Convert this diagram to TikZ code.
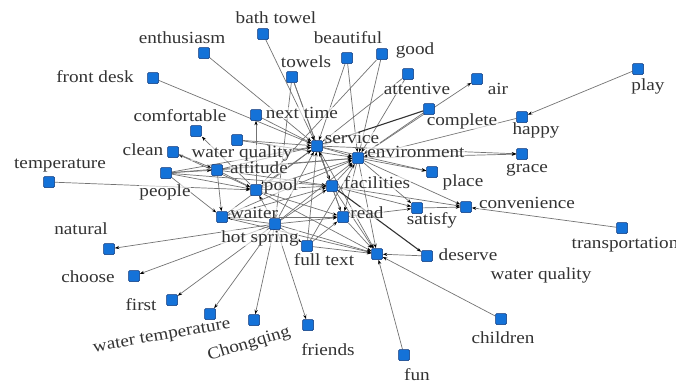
\documentclass[tikz,border=0pt]{standalone}
\usepackage{fontspec}
\setmainfont{Liberation Serif}[FakeStretch=1.13]
\usetikzlibrary{arrows.meta}
\definecolor{nodeblue}{RGB}{20,114,216}
\definecolor{nodeedge}{RGB}{12,52,120}
\pgfdeclarelayer{edges}
\pgfdeclarelayer{labels}
\pgfsetlayers{edges,labels,main}
\begin{document}
\begin{tikzpicture}[x=1pt,y=-1pt,
  sq/.style={draw=nodeedge,fill=nodeblue,line width=0.5pt,minimum size=11pt,inner sep=0pt,rounded corners=1.2pt},
  lab/.style={font=\fontsize{17}{17}\selectfont,text=black!80,inner sep=0.5pt,fill=white,fill opacity=0.6,text opacity=1},
  ed/.style={draw=black!55,line width=0.7pt,-{Stealth[length=4.5pt,width=3.2pt,black]}},
  edk/.style={ed,draw=black!80,line width=1.1pt},
]
\useasboundingbox (0,0) rectangle (676,384);
% ---------- squares ----------
\node[sq] (bathtowel) at (263,34) {};
\node[sq] (enthus) at (204,53) {};
\node[sq] (frontdesk) at (153,78) {};
\node[sq] (towels) at (292,77) {};
\node[sq] (beautiful) at (347,58) {};
\node[sq] (good) at (382,54) {};
\node[sq] (attentive) at (408,74) {};
\node[sq] (air) at (477,79) {};
\node[sq] (play) at (638,69) {};
\node[sq] (complete) at (429,109) {};
\node[sq] (happy) at (522,117) {};
\node[sq] (nexttime) at (256,115) {};
\node[sq] (comfortable) at (196,131) {};
\node[sq] (wqa) at (237,140) {};
\node[sq] (service) at (317,146) {};
\node[sq] (env) at (358,158) {};
\node[sq] (grace) at (522,154) {};
\node[sq] (clean) at (173,152) {};
\node[sq] (temperature) at (49,182) {};
\node[sq] (people) at (166,173) {};
\node[sq] (attitude) at (217,170) {};
\node[sq] (pool) at (256,190) {};
\node[sq] (facilities) at (332,186) {};
\node[sq] (place) at (432,172) {};
\node[sq] (waiter) at (222,217) {};
\node[sq] (hotspring) at (275,224) {};
\node[sq] (read) at (343,217) {};
\node[sq] (satisfy) at (417,208) {};
\node[sq] (convenience) at (466,207) {};
\node[sq] (transportation) at (622,228) {};
\node[sq] (fulltext) at (307,246) {};
\node[sq] (wqb) at (377,254) {};
\node[sq] (deserve) at (427,256) {};
\node[sq] (natural) at (109,249) {};
\node[sq] (choose) at (134,276) {};
\node[sq] (first) at (172,300) {};
\node[sq] (watertemp) at (210,314) {};
\node[sq] (chongqing) at (254,320) {};
\node[sq] (friends) at (308,325) {};
\node[sq] (children) at (501,319) {};
\node[sq] (fun) at (404,355) {};
% ---------- labels ----------
\begin{pgfonlayer}{labels}
\node[lab] (l-bathtowel) at (276,18) {bath towel};
\node[lab] (l-enthus) at (182,38) {enthusiasm};
\node[lab] (l-frontdesk) at (95,77) {front desk};
\node[lab] (l-towels) at (306,62) {towels};
\node[lab] (l-beautiful) at (348,38) {beautiful};
\node[lab] (l-good) at (415,50) {good};
\node[lab] (l-attentive) at (417,89) {attentive};
\node[lab] (l-air) at (498,89) {air};
\node[lab] (l-play) at (648,86) {play};
\node[lab] (l-complete) at (462,121) {complete};
\node[lab] (l-happy) at (536,130) {happy};
\node[lab] (l-nexttime) at (302,113) {next time};
\node[lab] (l-comfortable) at (180,116) {comfortable};
\node[lab] (l-wqa) at (242,153) {water quality};
\node[lab] (l-service) at (352,138) {service};
\node[lab] (l-env) at (416,152) {environment};
\node[lab] (l-grace) at (527,170) {grace};
\node[lab] (l-clean) at (143,150) {clean};
\node[lab] (l-temperature) at (60,166) {temperature};
\node[lab] (l-people) at (165,192) {people};
\node[lab] (l-attitude) at (259,168) {attitude};
\node[lab] (l-pool) at (281,186) {pool};
\node[lab] (l-facilities) at (377,183) {facilities};
\node[lab] (l-place) at (463,182) {place};
\node[lab] (l-convenience) at (527,203) {convenience};
\node[lab] (l-satisfy) at (432,220) {satisfy};
\node[lab] (l-read) at (367,213) {read};
\node[lab] (l-transportation) at (625,245) {transportation};
\node[lab] (l-deserve) at (468,255) {deserve};
\node[lab] (l-wqb) at (541,275) {water quality};
\node[lab] (l-waiter) at (254,213) {waiter};
\node[lab] (l-hotspring) at (260,238) {hot spring};
\node[lab] (l-fulltext) at (324,260) {full text};
\node[lab] (l-natural) at (81,229) {natural};
\node[lab] (l-choose) at (88,277) {choose};
\node[lab] (l-first) at (141,305) {first};
\node[lab,rotate=10] (l-watertemp) at (162,337) {water temperature};
\node[lab,rotate=17] (l-chongqing) at (249,344) {Chongqing};
\node[lab] (l-friends) at (328,350) {friends};
\node[lab] (l-children) at (503,338) {children};
\node[lab] (l-fun) at (417,375) {fun};
\end{pgfonlayer}
% ---------- connectors ----------
\begin{pgfonlayer}{edges}
\foreach \a/\b in {
  bathtowel/service, enthus/service, frontdesk/service,
  towels/service, towels/hotspring, towels/facilities,
  beautiful/service, beautiful/env, good/pool, good/env,
  attentive/service, attentive/env,
  complete/env, env/air,
  play/happy, happy/env, env/grace, service/grace,
  nexttime/service, pool/nexttime, pool/comfortable,
  wqa/service, wqa/env, pool/clean, clean/attitude,
  temperature/pool,
  people/attitude, people/pool, people/service, people/facilities, people/waiter, people/env,
  attitude/service, attitude/env, attitude/waiter, attitude/pool, attitude/facilities,
  pool/service, pool/env, pool/facilities, pool/read, pool/wqb,
  waiter/service, waiter/env, waiter/read, waiter/wqb, waiter/facilities,
  hotspring/service, hotspring/env, hotspring/facilities, hotspring/read,
  hotspring/fulltext, hotspring/wqb, hotspring/pool, hotspring/waiter,
  hotspring/natural, hotspring/choose, hotspring/first,
  hotspring/watertemp, hotspring/chongqing, hotspring/friends,
  facilities/service, facilities/env, facilities/wqb,
  facilities/convenience, facilities/satisfy,
  service/env, service/place, service/wqb, service/facilities, service/read,
  env/place, env/convenience, env/satisfy, env/wqb, env/read,
  read/satisfy, read/wqb, read/service,
  transportation/convenience, satisfy/convenience,
  deserve/wqb, children/wqb, fun/wqb,
  fulltext/service, fulltext/env, fulltext/wqb, fulltext/read}
  \draw[ed] (\a) -- (\b);
\draw[edk] (facilities) -- (deserve);
\draw[edk] (complete) -- (service);
\end{pgfonlayer}
\end{tikzpicture}
\end{document}
